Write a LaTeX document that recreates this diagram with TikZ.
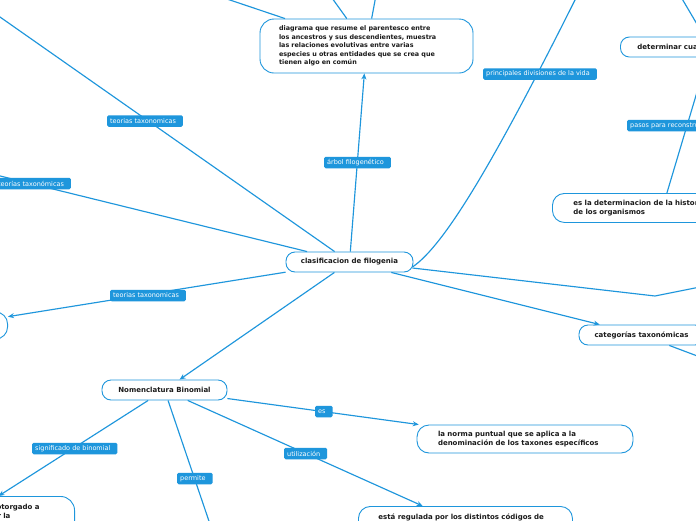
\documentclass[tikz,border=0pt]{standalone}
\usepackage{fontspec}
\setmainfont{DejaVu Sans}
\usetikzlibrary{arrows.meta}
\definecolor{mmblue}{HTML}{1E96DC}
\definecolor{txt}{HTML}{1A1A1A}
\begin{document}
\begin{tikzpicture}[x=1pt,y=-1pt,
  conn/.style={draw=mmblue, line width=1.15pt},
  arr/.style={conn, -{Stealth[length=6pt,width=5pt]}},
  topic/.style={draw=mmblue, line width=0.9pt, fill=white, rounded corners=9pt,
    font=\fontsize{7}{9}\selectfont\bfseries, text=txt, inner sep=0pt},
  lbl/.style={fill=mmblue, rounded corners=1.5pt, text=white,
    font=\fontsize{6.5}{7}\selectfont, inner xsep=3pt, inner ysep=0pt,
    minimum height=11.5pt, anchor=west, execute at end node={\hspace*{4pt}}},
]
\useasboundingbox (0,0) rectangle (696,520);
\clip (0,0) rectangle (696,520);
\fill[white] (0,0) rectangle (696,520);

% nodes
\node[topic, minimum width=127pt, minimum height=20pt] (central) at (349.5,262) {clasificacion de filogenia};
\node[topic, text width=175pt, align=left, inner xsep=19pt, minimum height=54pt, rounded corners=14pt,
  font=\fontsize{6.4}{8.5}\selectfont\bfseries] (top) at (366.5,46)
  {diagrama que resume el parentesco entre\\los ancestros y sus descendientes, muestra\\las relaciones evolutivas entre varias\\especies u otras entidades que se crea que\\tienen algo en común};
\node[topic, minimum width=125pt, minimum height=20pt] (nomen) at (164.5,390) {Nomenclatura Binomial};
\node[topic, text width=174pt, align=left, inner xsep=21pt, minimum height=28pt, rounded corners=12pt] (norma) at (525,439)
  {la norma puntual que se aplica a la\\denominación de los taxones específicos};
\node[topic, anchor=north west, text width=174pt, align=left, inner xsep=20pt, inner ysep=7pt, text depth=18pt, rounded corners=12pt] (regul) at (358,506)
  {está regulada por los distintos códigos de};
\node[topic, minimum width=125pt, minimum height=20pt] (cat) at (641.5,335) {categorías taxonómicas};
\node[topic, anchor=west, text width=146pt, align=left, inner xsep=17pt, minimum height=20pt] (det) at (620,47) {determinar cuales};
\node[topic, anchor=north west, text width=178pt, align=left, inner xsep=21pt, minimum height=29pt, rounded corners=12pt] (hist) at (552,193)
  {es la determinacion de la historia evolutiva\\de los organismos};
\node[topic, anchor=east, minimum width=110pt, minimum height=27pt, rounded corners=12pt] (lft) at (8,325.5) {};
\node[topic, anchor=north east, text width=178pt, align=left, inner xsep=20pt, inner ysep=8pt, text depth=20pt, rounded corners=14pt] (otorg) at (75,496)
  {\hspace*{120pt}otorgado a\\\hspace*{121pt}r la};

% free ends
\coordinate (o1) at (224,-2);
\coordinate (o2) at (332,-2);
\coordinate (o3) at (375.5,-2);
\coordinate (o4) at (-10,10);
\coordinate (o5) at (-10,173.5);
\coordinate (o6) at (577,-4);
\coordinate (o7) at (681,-3);
\coordinate (k1) at (655,296);
\coordinate (o9) at (700,287);
\coordinate (o10) at (700,357);
\coordinate (o11) at (212,530);

% connectors
\draw[conn] (o1) -- (top);
\draw[conn] (o2) -- (top);
\draw[conn] (o3) -- (top);
\draw[arr] (central) -- (top);
\draw[conn] (o4) -- (central);
\draw[conn] (o5) -- (central);
\draw[arr] (central) -- (lft);
\draw[arr] (central) -- (nomen);
\draw[arr] (central) -- (cat);
\draw[conn] ([shift={(-1,6)}]central.east) -- (k1) -- (o9);
\draw[conn] ([shift={(-1,5)}]central.east) .. controls (445,245) and (495,160) .. (o6);
\draw[conn] (o7) -- (det);
\draw[conn] (hist) -- (det);
\draw[conn] (cat) -- (o10);
\draw[arr] (nomen) -- (otorg);
\draw[conn] (nomen) -- (o11);
\draw[arr] (nomen) -- (norma);
\draw[arr] (nomen) -- (regul);

% labels
\node[lbl] (l1) at (324,162.5) {árbol filogenético};
\node[lbl] (l2) at (107,121) {teorias taxonomicas};
\node[lbl] (l3) at (-5,183.5) {teorías taxonómicas};
\node[lbl] (l4) at (110,295.5) {teorias taxonomicas};
\node[lbl] (l5) at (32,448.5) {significado de binomial};
\node[lbl] (l6) at (177,478.5) {permite};
\node[lbl] (l7) at (315,411.5) {es};
\node[lbl] (l8) at (284,453.5) {utilización};
\node[lbl] (l9) at (483,74) {principales divisiones de la vida};
\node[lbl] (l10) at (627,125.5) {pasos para reconstruir};
\end{tikzpicture}
\end{document}
